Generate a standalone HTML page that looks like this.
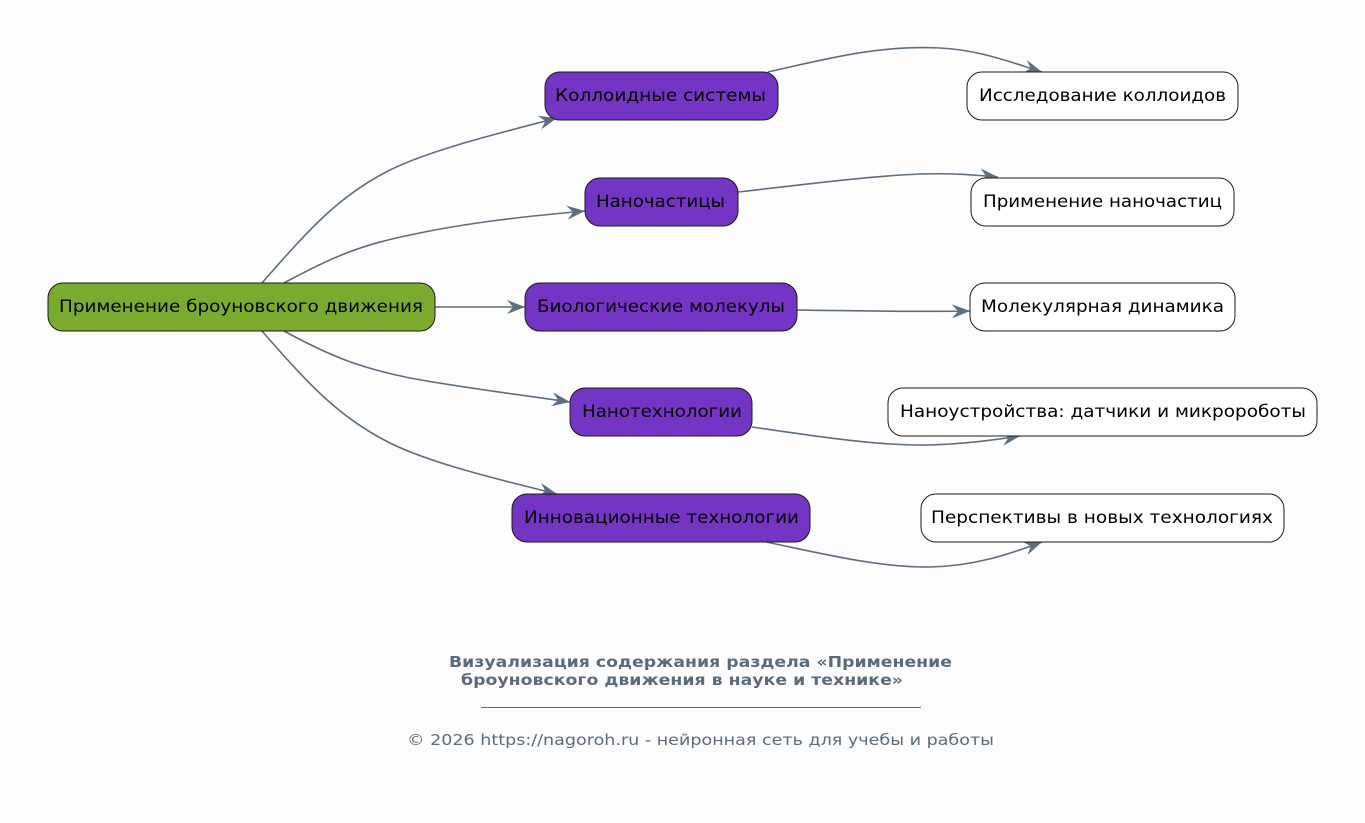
<!DOCTYPE html>
<html>
<head>
<meta charset="utf-8">
<style>
html,body{margin:0;padding:0;background:#fdfdfd;}
body{width:1365px;height:823px;overflow:hidden;}
svg{display:block;}
.n{font-family:"DejaVu Sans","Liberation Sans",sans-serif;font-size:16.5px;fill:#000;}
.e{fill:none;stroke:#5f6e7e;stroke-width:1.6;}
.t{font-family:"DejaVu Sans","Liberation Sans",sans-serif;font-size:15.5px;font-weight:bold;fill:#5b6b7b;}
.f{font-family:"DejaVu Sans","Liberation Sans",sans-serif;font-size:15.5px;fill:#5b6b7b;}
</style>
</head>
<body>
<svg width="1365" height="823" viewBox="0 0 1365 823" xmlns="http://www.w3.org/2000/svg">
<defs>
<marker id="v" markerWidth="20" markerHeight="16" refX="18" refY="8" orient="auto" markerUnits="userSpaceOnUse">
<path d="M18,8 L0,1 L6,8 L0,15 Z" fill="#5f6e7e"/>
</marker>
</defs>
<rect width="1365" height="823" fill="#fdfdfd"/>

<!-- edges -->
<path class="e" marker-end="url(#v)" d="M262,283 C310,228 340,195 390,170 C430,150 500,133 557,118"/>
<path class="e" marker-end="url(#v)" d="M284,283 C330,258 360,245 410,235 C470,222 530,216 585,211"/>
<path class="e" marker-end="url(#v)" d="M435,307 L525,307"/>
<path class="e" marker-end="url(#v)" d="M284,331 C330,356 360,368 410,378 C470,389 530,396 570,402"/>
<path class="e" marker-end="url(#v)" d="M262,331 C310,386 340,418 390,443 C430,463 500,480 557,494"/>

<path class="e" marker-end="url(#v)" d="M768,72 C830,58 880,45 940,48 C980,50 1010,62 1042,72"/>
<path class="e" marker-end="url(#v)" d="M738,192 C800,185 870,176 920,174 C955,173 975,175 998,177"/>
<path class="e" marker-end="url(#v)" d="M797,310 C860,311 920,312 970,311"/>
<path class="e" marker-end="url(#v)" d="M752,427 C820,437 880,446 930,445 C965,444 995,440 1020,436"/>
<path class="e" marker-end="url(#v)" d="M766,542 C820,553 880,568 930,567 C975,566 1010,554 1042,542"/>

<!-- root -->
<rect x="48" y="283" width="387" height="48" rx="15" fill="#7aab2e" stroke="#1a1a1a" stroke-width="1"/>
<text class="n" x="59" y="312" textLength="364" lengthAdjust="spacingAndGlyphs">Применение броуновского движения</text>

<!-- middle -->
<rect x="545" y="72" width="233" height="48" rx="15" fill="#7535c4" stroke="#1a1a1a" stroke-width="1"/>
<text class="n" x="555" y="101" textLength="211" lengthAdjust="spacingAndGlyphs">Коллоидные системы</text>

<rect x="585" y="178" width="153" height="48" rx="15" fill="#7535c4" stroke="#1a1a1a" stroke-width="1"/>
<text class="n" x="596" y="207" textLength="129" lengthAdjust="spacingAndGlyphs">Наночастицы</text>

<rect x="525" y="283" width="272" height="48" rx="15" fill="#7535c4" stroke="#1a1a1a" stroke-width="1"/>
<text class="n" x="537" y="312" textLength="248" lengthAdjust="spacingAndGlyphs">Биологические молекулы</text>

<rect x="570" y="388" width="182" height="48" rx="15" fill="#7535c4" stroke="#1a1a1a" stroke-width="1"/>
<text class="n" x="582" y="417" textLength="160" lengthAdjust="spacingAndGlyphs">Нанотехнологии</text>

<rect x="512" y="494" width="298" height="48" rx="15" fill="#7535c4" stroke="#1a1a1a" stroke-width="1"/>
<text class="n" x="524" y="523" textLength="275" lengthAdjust="spacingAndGlyphs">Инновационные технологии</text>

<!-- right -->
<rect x="967" y="72" width="271" height="48" rx="15" fill="#ffffff" stroke="#1a1a1a" stroke-width="1"/>
<text class="n" x="979" y="101" textLength="247" lengthAdjust="spacingAndGlyphs">Исследование коллоидов</text>

<rect x="971" y="178" width="263" height="48" rx="15" fill="#ffffff" stroke="#1a1a1a" stroke-width="1"/>
<text class="n" x="983" y="207" textLength="239" lengthAdjust="spacingAndGlyphs">Применение наночастиц</text>

<rect x="970" y="283" width="265" height="48" rx="15" fill="#ffffff" stroke="#1a1a1a" stroke-width="1"/>
<text class="n" x="981" y="312" textLength="243" lengthAdjust="spacingAndGlyphs">Молекулярная динамика</text>

<rect x="888" y="388" width="429" height="48" rx="15" fill="#ffffff" stroke="#1a1a1a" stroke-width="1"/>
<text class="n" x="900" y="417" textLength="406" lengthAdjust="spacingAndGlyphs">Наноустройства: датчики и микророботы</text>

<rect x="921" y="494" width="363" height="48" rx="15" fill="#ffffff" stroke="#1a1a1a" stroke-width="1"/>
<text class="n" x="931" y="523" textLength="342" lengthAdjust="spacingAndGlyphs">Перспективы в новых технологиях</text>

<!-- footer -->
<text class="t" x="449" y="667" textLength="503" lengthAdjust="spacingAndGlyphs">Визуализация содержания раздела «Применение</text>
<text class="t" x="461" y="685" textLength="442" lengthAdjust="spacingAndGlyphs">броуновского движения в науке и технике»</text>
<line x1="481" y1="707.5" x2="921" y2="707.5" stroke="#5b6b7b" stroke-width="1"/>
<text class="f" x="407" y="745" textLength="587" lengthAdjust="spacingAndGlyphs">© 2026 https://nagoroh.ru - нейронная сеть для учебы и работы</text>
</svg>
</body>
</html>
